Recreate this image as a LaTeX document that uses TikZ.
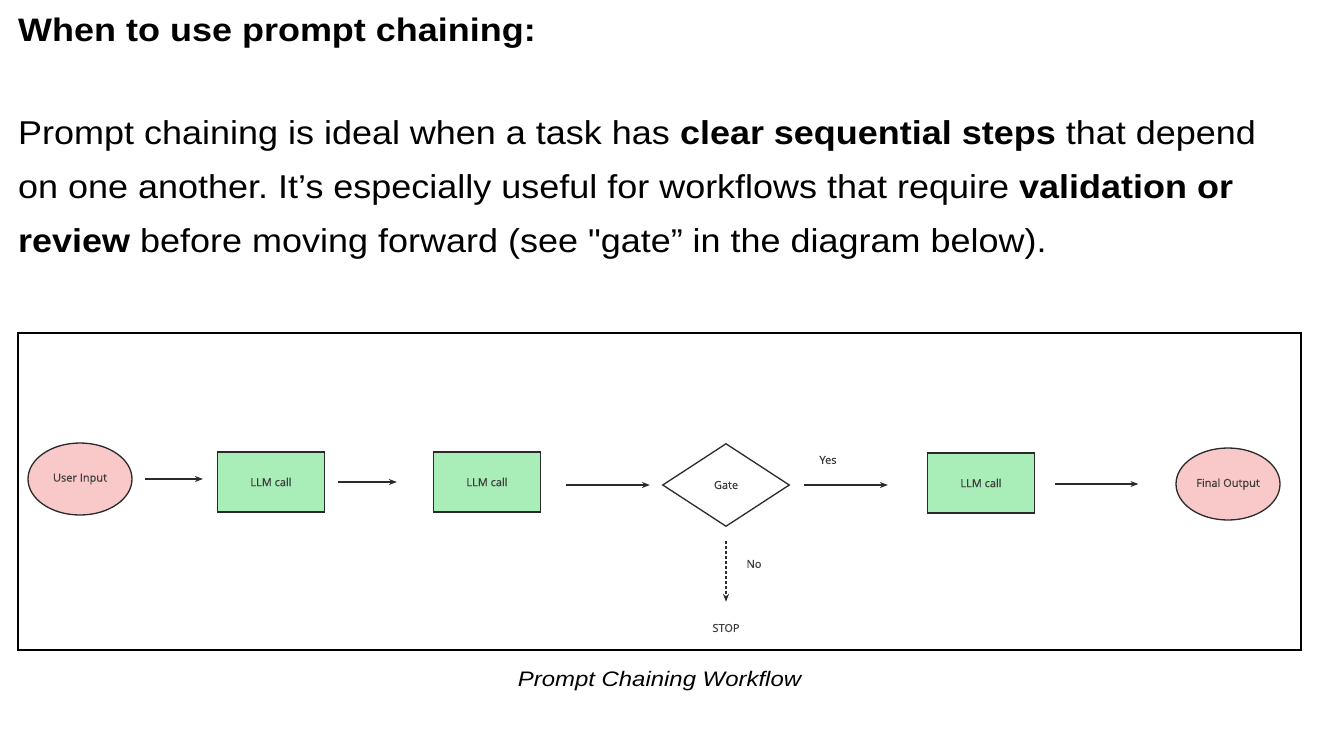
\documentclass[tikz,border=0pt]{standalone}
\usepackage{graphicx}
\usepackage{fontspec}
\setmainfont{Liberation Sans}
\newfontfamily\diagfont[FakeBold=0.6]{Open Sans}
\usetikzlibrary{shapes.geometric,arrows.meta}
\frenchspacing
\definecolor{pinkfill}{HTML}{F9C8C8}
\definecolor{greenfill}{HTML}{A9EDB9}
\definecolor{labelgray}{HTML}{3C3C3C}
\definecolor{edgegray}{HTML}{2A2A2A}
\tikzset{
  txt/.style={inner sep=0pt, anchor=base west, font=\fontsize{33}{40}\selectfont, text=black},
  terminal/.style={ellipse, draw=edgegray, line width=1.3pt, fill=pinkfill, minimum width=104pt, minimum height=72pt, inner sep=0pt, font=\diagfont\fontsize{11}{13}\selectfont, text=labelgray},
  llmbox/.style={rectangle, draw=edgegray, line width=1.3pt, fill=greenfill, minimum width=107pt, minimum height=60pt, inner sep=0pt, font=\diagfont\fontsize{11}{13}\selectfont, text=labelgray},
  gatebox/.style={diamond, draw=edgegray, line width=1.3pt, fill=white, minimum width=127pt, minimum height=83pt, aspect=1.53, inner sep=0pt, font=\diagfont\fontsize{11}{13}\selectfont, text=labelgray},
  lbl/.style={inner sep=0pt, font=\diagfont\fontsize{11}{13}\selectfont, text=labelgray},
  flow/.style={-{Stealth[length=8pt,width=6pt]}, line width=1.1pt, draw=edgegray},
}
\begin{document}
\begin{tikzpicture}[x=1pt,y=-1pt]
\useasboundingbox (0,0) rectangle (1343,733);
\fill[white] (0,0) rectangle (1343,733);
% heading and paragraph
\node[txt, font=\bfseries\fontsize{32.5}{38}\selectfont] (title) at (18,42) {\scalebox{1.107}[1]{When to use prompt chaining:}};
\node[txt] (l1) at (18,144) {\scalebox{1.09}[1]{Prompt chaining is ideal when a task has \textbf{clear sequential steps} that depend}};
\node[txt] (l2) at (18,198) {\scalebox{1.09}[1]{on one another. It’s especially useful for workflows that require \textbf{validation or}}};
\node[txt] (l3) at (18,252) {\scalebox{1.09}[1]{\textbf{review} before moving forward (see \textquotedbl gate” in the diagram below).}};
% frame
\draw[line width=2pt] (18,333) rectangle (1301,650);
% diagram
\node[terminal] (in) at (80,479) {User Input};
\node[llmbox] (c1) at (271,482) {LLM call};
\node[llmbox] (c2) at (487,482) {LLM call};
\node[gatebox] (gate) at (726,485) {Gate};
\node[llmbox] (c3) at (981,483) {LLM call};
\node[terminal] (out) at (1228,484) {Final Output};
\node[lbl] (stop) at (726,628) {STOP};
\node[lbl] (yes) at (828,460) {Yes};
\node[lbl] (no) at (754,564) {No};
\draw[flow] ([xshift=12pt]in.east) -- ([xshift=-14pt]c1.west |- in.east);
\draw[flow] ([xshift=13pt]c1.east) -- ([xshift=-36pt]c2.west);
\draw[flow] ([xshift=25pt]c2.east |- gate.west) -- ([xshift=-12pt]gate.west);
\draw[flow] ([xshift=14pt]gate.east) -- ([xshift=-39pt]c3.west |- gate.east);
\draw[flow] ([xshift=20pt]c3.east |- out.west) -- ([xshift=-37pt]out.west);
\draw[flow, dash pattern=on 3pt off 2pt] ([yshift=-14pt]gate.south) -- ([yshift=22pt]stop.north);
\node[inner sep=0pt, anchor=base, font=\itshape\fontsize{21}{25}\selectfont] (cap) at (659.5,686) {\scalebox{1.14}[1]{Prompt Chaining Workflow}};
\end{tikzpicture}
\end{document}
